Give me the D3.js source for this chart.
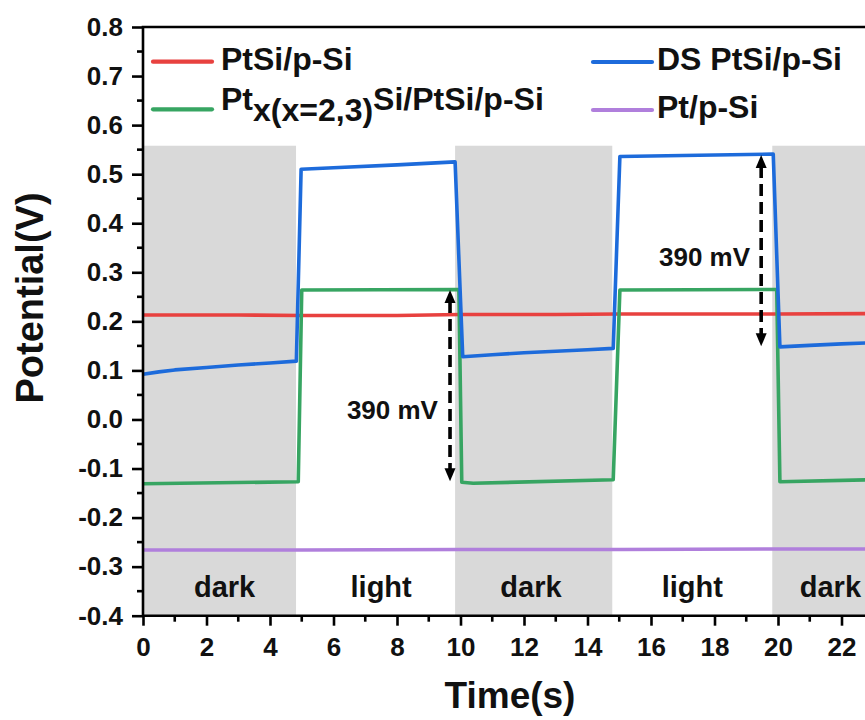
<!DOCTYPE html>
<html>
<head>
<meta charset="utf-8">
<script src="https://cdn.jsdelivr.net/npm/d3@7"></script>
<style>
  html, body { margin: 0; padding: 0; background: #fff; }
  svg { display: block; font-family: Arial, "Liberation Sans", sans-serif; font-weight: bold; }
</style>
</head>
<body>
<svg id="chart" width="865" height="720"></svg>
<script>
// Open-circuit potential under chopped illumination
const timeMax = 23.5;

// dark / light periods (s)
const periodStart = [0, 4.82, 9.83, 14.78, 19.82];
const periodEnd   = [4.82, 9.83, 14.78, 19.82, 23.5];
const periodKind  = ["dark", "light", "dark", "light", "dark"];
const periodLabelX = [2.57, 7.5, 12.22, 17.3, 21.65];
const bandTop = 0.558;

// PtSi/p-Si
const ptsiT = [0, 3, 5, 8, 10, 13, 15, 18, 20, 23.5];
const ptsiV = [0.213, 0.213, 0.212, 0.212, 0.214, 0.214, 0.215, 0.215, 0.215, 0.216];

// DS PtSi/p-Si
const dsT = [0, 0.5, 1, 2, 3, 4, 4.83, 4.98, 6, 8, 9.83, 10.07, 11, 12, 13, 14, 14.81, 15.02, 17, 19.85, 20.06, 21, 22, 23.5];
const dsV = [0.092, 0.097, 0.101, 0.106, 0.111, 0.115, 0.119, 0.510, 0.513, 0.519, 0.525, 0.128, 0.132, 0.136, 0.139, 0.142, 0.145, 0.536, 0.538, 0.541, 0.148, 0.151, 0.154, 0.158];

// Pt(x=2,3)Si/PtSi/p-Si
const ptxT = [0, 4.89, 5.0, 9.95, 10.04, 10.4, 14.81, 15.02, 19.96, 20.06, 23.5];
const ptxV = [-0.131, -0.127, 0.264, 0.265, -0.128, -0.130, -0.123, 0.264, 0.265, -0.127, -0.122];

// Pt/p-Si
const ptT = [0, 5, 10, 15, 20, 23.5];
const ptV = [-0.266, -0.266, -0.265, -0.265, -0.264, -0.264];

// photovoltage annotations
const arrowX    = [9.67, 19.47];
const arrowLow  = [-0.126, 0.149];
const arrowHigh = [0.264, 0.539];
const arrowText = ["390 mV", "390 mV"];
const arrowTextX = [9.29, 19.12];
const arrowTextY = [0.019, 0.331];

// axis ticks
const xMajor = [0, 2, 4, 6, 8, 10, 12, 14, 16, 18, 20, 22];
const xMinor = [1, 3, 5, 7, 9, 11, 13, 15, 17, 19, 21, 23];
const yMajor = [-0.4, -0.3, -0.2, -0.1, 0.0, 0.1, 0.2, 0.3, 0.4, 0.5, 0.6, 0.7, 0.8];
const yMinor = [-0.35, -0.25, -0.15, -0.05, 0.05, 0.15, 0.25, 0.35, 0.45, 0.55, 0.65, 0.75];

// legend
const legendNames  = ["PtSi/p-Si", "Ptx(x=2,3)Si/PtSi/p-Si", "DS PtSi/p-Si", "Pt/p-Si"];
const legendColors = ["#e8413f", "#37a562", "#1d6bdb", "#b07fdc"];

const series = [
  { t: ptsiT, v: ptsiV, color: legendColors[0] },
  { t: ptxT,  v: ptxV,  color: legendColors[1] },
  { t: dsT,   v: dsV,   color: legendColors[2] },
  { t: ptT,   v: ptV,   color: legendColors[3] }
];

const svg = d3.select("#chart");
const plotLeft = 143, plotTop = 27, plotBottom = 615.7;
const pxPerSec = 31.75;

// plain hyphen for negative tick labels
const locale = d3.formatLocale({ decimal: ".", thousands: ",", grouping: [3], currency: ["", ""], minus: "-" });

const x = d3.scaleLinear().domain([0, timeMax]).range([plotLeft, plotLeft + pxPerSec * timeMax]);
const y = d3.scaleLinear().domain([-0.4, 0.8]).range([plotBottom, plotTop]);

// shaded dark periods
svg.append("g").selectAll("rect")
  .data(periodKind.map((k, i) => ({ k, s: periodStart[i], e: periodEnd[i] })).filter(d => d.k === "dark"))
  .join("rect")
  .attr("x", d => x(d.s))
  .attr("y", y(bandTop))
  .attr("width", d => x(d.e) - x(d.s))
  .attr("height", y(-0.4) - y(bandTop))
  .attr("fill", "#d9d9d9");

// period labels
svg.append("g").selectAll("text")
  .data(periodKind)
  .join("text")
  .attr("x", (d, i) => x(periodLabelX[i]))
  .attr("y", 597)
  .attr("text-anchor", "middle")
  .attr("font-size", 29)
  .attr("fill", "#111")
  .text(d => d);

// data curves
const line = d3.line().x(d => x(d[0])).y(d => y(d[1]));
svg.append("g").selectAll("path")
  .data(series)
  .join("path")
  .attr("d", s => line(s.t.map((t, i) => [t, s.v[i]])))
  .attr("fill", "none")
  .attr("stroke", s => s.color)
  .attr("stroke-width", 3.6)
  .attr("stroke-linejoin", "round");

// double-headed dashed arrows
const ann = svg.append("g");
arrowX.forEach((ax, i) => {
  const cx = x(ax), yHi = y(arrowHigh[i]), yLo = y(arrowLow[i]);
  const head = 13, hw = 5.5;
  ann.append("line")
    .attr("x1", cx).attr("x2", cx)
    .attr("y1", yHi + head - 2).attr("y2", yLo - head + 2)
    .attr("stroke", "#000").attr("stroke-width", 3.6)
    .attr("stroke-dasharray", "12,6");
  ann.append("path")
    .attr("d", `M${cx},${yHi} L${cx - hw},${yHi + head} L${cx + hw},${yHi + head} Z`)
    .attr("fill", "#000");
  ann.append("path")
    .attr("d", `M${cx},${yLo} L${cx - hw},${yLo - head} L${cx + hw},${yLo - head} Z`)
    .attr("fill", "#000");
  ann.append("text")
    .attr("x", x(arrowTextX[i]))
    .attr("y", y(arrowTextY[i]))
    .attr("dy", "0.35em")
    .attr("text-anchor", "end")
    .attr("font-size", 26)
    .attr("fill", "#111")
    .text(arrowText[i]);
});

// frame
svg.append("path")
  .attr("d", `M${x(timeMax) + 20},${plotTop} H${plotLeft} V${plotBottom} H${x(timeMax) + 20}`)
  .attr("fill", "none")
  .attr("stroke", "#000")
  .attr("stroke-width", 2.6);

// axes
const xAxis = svg.append("g")
  .attr("transform", `translate(0,${plotBottom})`)
  .call(d3.axisBottom(x).tickValues(xMajor).tickSize(10).tickPadding(12).tickFormat(locale.format("d")));
xAxis.select(".domain").remove();
xAxis.selectAll(".tick line").attr("stroke", "#000").attr("stroke-width", 2.6);
xAxis.selectAll(".tick text").attr("font-size", 26).attr("fill", "#111")
  .attr("font-family", "Arial, 'Liberation Sans', sans-serif").attr("font-weight", "bold");
xAxis.selectAll(".minor").data(xMinor).join("line")
  .attr("class", "minor")
  .attr("x1", d => x(d)).attr("x2", d => x(d))
  .attr("y1", 0).attr("y2", 6)
  .attr("stroke", "#000").attr("stroke-width", 2.6);

const yAxis = svg.append("g")
  .attr("transform", `translate(${plotLeft},0)`)
  .call(d3.axisLeft(y).tickValues(yMajor).tickSize(11).tickPadding(9).tickFormat(locale.format(".1f")));
yAxis.select(".domain").remove();
yAxis.selectAll(".tick line").attr("stroke", "#000").attr("stroke-width", 2.6);
yAxis.selectAll(".tick text").attr("font-size", 26).attr("fill", "#111")
  .attr("font-family", "Arial, 'Liberation Sans', sans-serif").attr("font-weight", "bold");
yAxis.selectAll(".minor").data(yMinor).join("line")
  .attr("class", "minor")
  .attr("x1", 0).attr("x2", -6)
  .attr("y1", d => y(d)).attr("y2", d => y(d))
  .attr("stroke", "#000").attr("stroke-width", 2.6);

// axis titles
svg.append("text")
  .attr("x", 510).attr("y", 708)
  .attr("text-anchor", "middle")
  .attr("font-size", 37)
  .attr("fill", "#111")
  .text("Time(s)");
svg.append("text")
  .attr("transform", "translate(43,298) rotate(-90)")
  .attr("text-anchor", "middle")
  .attr("font-size", 38)
  .attr("fill", "#111")
  .text("Potential(V)");

// legend
const legendPos = [
  { lx: 153, ly: 61.7, tx: 221, ty: 70 },
  { lx: 153, ly: 109.3, tx: 221, ty: 110 },
  { lx: 593, ly: 62, tx: 657, ty: 70 },
  { lx: 593, ly: 110, tx: 657, ty: 118 }
];
const lg = svg.append("g");
legendNames.forEach((name, i) => {
  const p = legendPos[i];
  lg.append("line")
    .attr("x1", p.lx).attr("x2", p.lx + 59)
    .attr("y1", p.ly).attr("y2", p.ly)
    .attr("stroke", legendColors[i]).attr("stroke-width", 4.2)
    .attr("stroke-linecap", "round");
  const t = lg.append("text")
    .attr("x", p.tx).attr("y", p.ty)
    .attr("font-size", 32)
    .attr("fill", "#111");
  if (i === 1) {
    t.append("tspan").text("Pt");
    t.append("tspan").attr("dy", 11).text("x(x=2,3)");
    t.append("tspan").attr("dy", -11).text("Si/PtSi/p-Si");
  } else {
    t.text(name);
  }
});
</script>
</body>
</html>
